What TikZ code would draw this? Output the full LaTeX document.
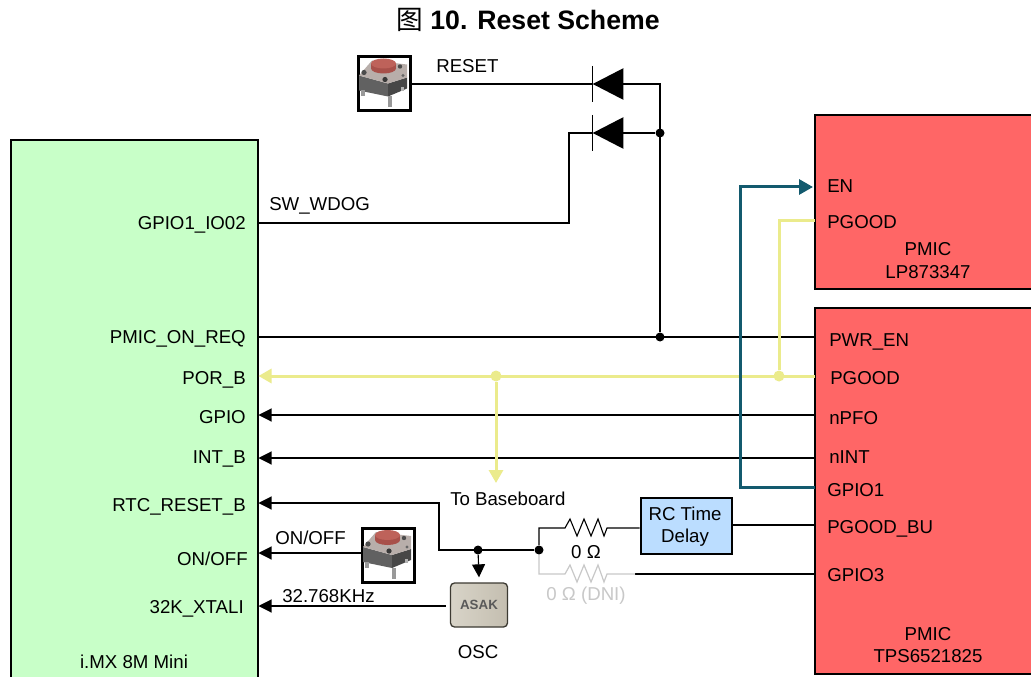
\documentclass[tikz,border=0pt]{standalone}
\usepackage{fontspec}
\setmainfont{Liberation Sans}
\newfontfamily\cjkfont{Noto Sans CJK SC}
\usetikzlibrary{arrows.meta,calc}
\definecolor{imxgreen}{HTML}{C8FFC8}
\definecolor{pmicred}{HTML}{FF6666}
\definecolor{rcblue}{HTML}{BBDDFF}
\definecolor{tealline}{HTML}{135A6E}
\definecolor{yelline}{HTML}{EBEB8C}
\definecolor{dnigray}{HTML}{C8C8C8}
\definecolor{capdark}{HTML}{A8504A}
\definecolor{caplight}{HTML}{BE625A}
\definecolor{oscL}{HTML}{D8D4C8}
\definecolor{oscR}{HTML}{C4BEB0}
\definecolor{oscedge}{HTML}{3C3A32}
\definecolor{btntop}{HTML}{B8AEAA}
\def\pxu{0.75pt}
\newcommand{\pushbtn}[3]{%
  \node[draw=black,line width=2.6*\pxu,fill=white,inner sep=0pt,anchor=north west,
        minimum width=52*\pxu,minimum height=54*\pxu] (#1) at (#2,#3) {};
  \begin{scope}[shift={(#2,#3)}]
    \fill[black!62] (2,20) -- (31,28) -- (31,41) -- (2,35) -- cycle;
    \fill[black!72] (31,28) -- (50,22) -- (50,33) -- (31,41) -- cycle;
    \fill[btntop] (2,20) -- (15,5) -- (50,9) -- (50,22) -- (31,28) -- cycle;
    \fill[black!70] (7,17) circle (2.6);
    \fill[black!70] (43,11) circle (2.2);
    \fill[black!78] (28,24) circle (2.6);
    \fill[black!60] (46,20) circle (1.6);
    \fill[black!40] (31,41) rectangle (35,52);
    \fill[black!40] (4,35) rectangle (8,41);
    \fill[black!30] (44,32) rectangle (47,36);
    \fill[capdark] (14,8) rectangle (39,13);
    \fill[capdark] (26.5,13) ellipse (12.5 and 5);
    \fill[caplight] (26.5,8) ellipse (12.5 and 5);
  \end{scope}
}
\newcommand{\diode}[3]{%
  \node[inner sep=0pt,minimum width=30*\pxu,minimum height=31*\pxu] (#1) at (#2,#3) {};
  \fill (#1.west) -- (#1.north east) -- (#1.south east) -- cycle;
  \draw[wire] ($(#1.west)+(0,-18)$) -- ($(#1.west)+(0,18)$);
}
\tikzset{
  x=0.75pt,y=-0.75pt,
  wire/.style={line width=1.1*\pxu,black},
  arrowwire/.style={wire,-{Triangle[length=13*\pxu,width=13*\pxu]}},
  yelwire/.style={line width=3*\pxu,yelline},
  tealwire/.style={line width=3*\pxu,tealline},
  lbl/.style={font=\fontsize{14}{16}\selectfont,inner sep=0pt,text=black},
  lblR/.style={lbl,anchor=base east},
  lblL/.style={lbl,anchor=base west},
  lblC/.style={lbl,anchor=base},
  ic/.style={draw=black,line width=2.4*\pxu,inner sep=0pt,anchor=north west},
  dot/.style={circle,fill=black,inner sep=0pt,minimum size=9*\pxu},
  yeldot/.style={circle,fill=yelline,inner sep=0pt,minimum size=11*\pxu},
}
\begin{document}
\begin{tikzpicture}
\clip (0,0) rectangle (1031,677);
\fill[white] (0,0) rectangle (1031,677);

% boxes
\node[ic,fill=imxgreen,minimum width=247*\pxu,minimum height=560*\pxu] (imx) at (10,139) {};
\node[ic,fill=pmicred,minimum width=240*\pxu,minimum height=174*\pxu] (lp) at (814,114) {};
\node[ic,fill=pmicred,minimum width=240*\pxu,minimum height=366*\pxu] (tps) at (814,306.5) {};
\node[draw=black,line width=2.4*\pxu,fill=rcblue,inner sep=0pt,anchor=north west,minimum width=91*\pxu,minimum height=56*\pxu,align=center] (rc) at (639.5,496.5) {};

% title
\node[font=\fontsize{20}{24}\selectfont\bfseries,inner sep=0pt,anchor=base] (title) at (528,29.5) {{\cjkfont\mdseries 图} 10. Reset Scheme};

% junctions and pins
\coordinate (top) at (660,84);
\node[dot] (j1) at (660,133) {};
\node[dot] (j2) at (660,337) {};
\coordinate (c1) at (569,133);
\coordinate (c2) at (569,223);
\coordinate (pgpio) at (258,223);
\coordinate (pon) at (258,337);
\coordinate (ppwr) at (815,337);
\node[yeldot] (y1) at (496,376) {};
\node[yeldot] (y2) at (779,376) {};
\coordinate (ppor) at (258.5,376);
\coordinate (ppg) at (815,376);
\coordinate (ppg1) at (815,221);
\coordinate (yc) at (779,221);
\coordinate (tobase) at (496,483);
\coordinate (pgp) at (258.5,415);
\coordinate (pnp) at (815,415);
\coordinate (pib) at (258.5,458);
\coordinate (pni) at (815,458);
\coordinate (pg1) at (815,487);
\coordinate (t1) at (740,487);
\coordinate (t2) at (740,187);
\coordinate (pen) at (813,187);
\coordinate (prtc) at (258.5,503);
\coordinate (r1) at (439,503);
\coordinate (r2) at (439,550);
\node[dot] (j3) at (478,550) {};
\node[dot] (j4) at (539,550) {};
\coordinate (ra) at (539,528);
\coordinate (rb) at (539,574);
\coordinate (pbu) at (815,525);
\coordinate (pg3) at (815,574);
\coordinate (grayend) at (635,574);
\coordinate (ponoff) at (258.5,553);
\coordinate (pxt) at (258.5,606);

% diodes
\diode{d1}{608}{84}
\diode{d2}{608}{133}

% buttons
\pushbtn{b1}{357}{55.5}
\pushbtn{b2}{361}{527}

% oscillator
\node[draw=oscedge,line width=1.3*\pxu,rounded corners=3pt,left color=oscL,right color=oscR,inner sep=0pt,minimum width=57*\pxu,minimum height=44*\pxu,font=\fontsize{10}{12}\selectfont\bfseries,text=black!65] (osc) at (479,605) {ASAK};

% black wires
\draw[wire] (b1.east |- d1) -- (d1.west);
\draw[wire] (d1.east) -- (top) -- (j2);
\draw[wire] (d2.east) -- (j1);
\draw[wire] (pgpio) -- (c2) -- (c1) -- (d2.west);
\draw[wire] (pon) -- (ppwr);
\draw[arrowwire] (pnp) -- (pgp);
\draw[arrowwire] (pni) -- (pib);
\draw[arrowwire] (j4) -- (r2) -- (r1) -- (prtc);
\draw[arrowwire] (j3) -- ($(osc.north)+(0,-5)$);
\draw[arrowwire] (b2.west |- ponoff) -- (ponoff);
\draw[arrowwire] ($(osc.west)+(-4,1)$) -- (pxt);
\draw[wire] (j4) -- (ra) -- (565,528) -- (570,519) -- (577,536) -- (584,519) -- (591,536) -- (598,519) -- (604,536) -- (607,528) -- (rc.west |- ra);
\draw[wire] (rc.east |- pbu) -- (pbu);
\draw[wire] (grayend) -- (pg3);
\draw[line width=1.2*\pxu,dnigray] (j4) -- (rb) -- (565,574) -- (570,565) -- (577,582) -- (584,565) -- (591,582) -- (598,565) -- (604,582) -- (607,574) -- (grayend);

% yellow wires
\draw[yelwire,-{Triangle[length=13*\pxu,width=14*\pxu]}] (ppg) -- (ppor);
\draw[yelwire] (y2) -- (yc) -- (ppg1);
\draw[yelwire,-{Triangle[length=13*\pxu,width=14*\pxu]}] (y1) -- (tobase);

% teal wire
\draw[tealwire,-{Triangle[length=14*\pxu,width=15*\pxu]}] (pg1) -- (t1) -- (t2) -- (pen);

% labels: i.MX
\node[lblR] (l1) at (246,230) {GPIO1\_IO02};
\node[lblR] (l2) at (246,343) {PMIC\_ON\_REQ};
\node[lblR] (l3) at (246,384) {POR\_B};
\node[lblR] (l4) at (246,423) {GPIO};
\node[lblR] (l5) at (246,463) {INT\_B};
\node[lblR] (l6) at (246,511) {RTC\_RESET\_B};
\node[lblR] (l7) at (248,565) {ON/OFF};
\node[lblR] (l8) at (244,613) {32K\_XTALI};
\node[lblC] (l9) at (134,668) {i.MX 8M Mini};
% labels: wires
\node[lblL] (w1) at (269,211) {SW\_WDOG};
\node[lblL] (w2) at (436,73) {RESET};
\node[lblL] (w3) at (450,505) {To Baseboard};
\node[lblC] (w4) at (586,558) {0 Ω};
\node[lblC,text=dnigray] (w5) at (586,600) {0 Ω (DNI)};
\node[lblL] (w6) at (275,544) {ON/OFF};
\node[lblL] (w7) at (282,602) {32.768KHz};
\node[lblC] (w8) at (478,658) {OSC};
\node[lblC] (w9) at (685,520) {RC Time};
\node[lblC] (w10) at (685,542) {Delay};
% labels: PMICs
\node[lblL] (p1) at (827,193) {EN};
\node[lblL] (p2) at (827,229) {PGOOD};
\node[lblC] (p3) at (928,256) {PMIC};
\node[lblC] (p4) at (928,278) {LP873347};
\node[lblL] (p5) at (829,346) {PWR\_EN};
\node[lblL] (p6) at (830,384) {PGOOD};
\node[lblL] (p7) at (829,424) {nPFO};
\node[lblL] (p8) at (829,463) {nINT};
\node[lblL] (p9) at (827,496) {GPIO1};
\node[lblL] (p10) at (827,533) {PGOOD\_BU};
\node[lblL] (p11) at (827,581) {GPIO3};
\node[lblC] (p12) at (928,640) {PMIC};
\node[lblC] (p13) at (928,662) {TPS6521825};
\end{tikzpicture}
\end{document}
